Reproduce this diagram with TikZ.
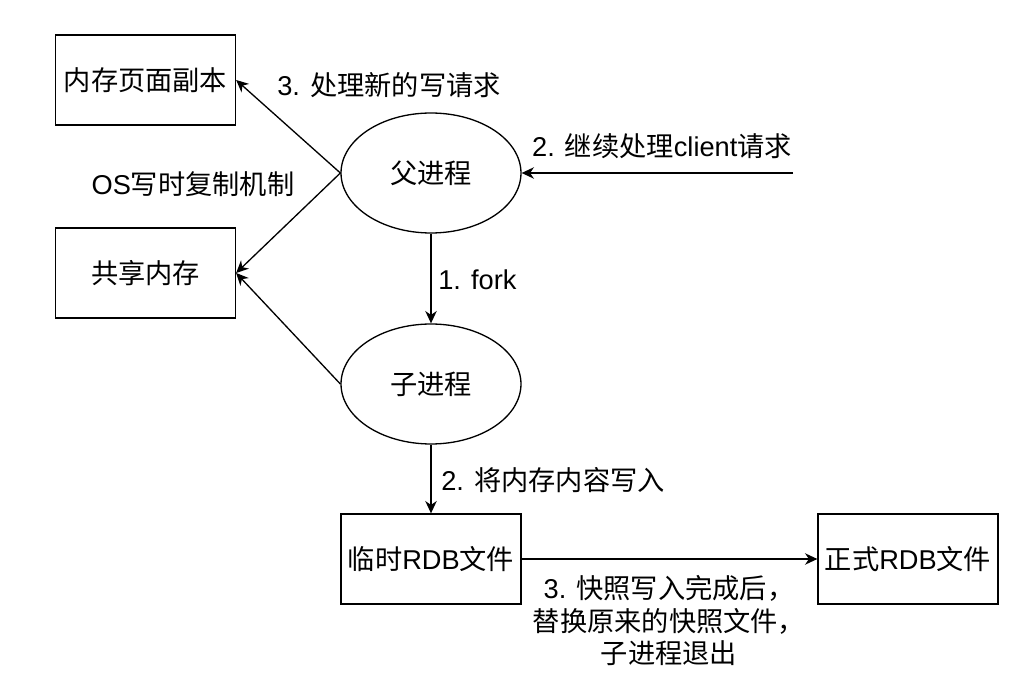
\documentclass[tikz,border=0pt]{standalone}
\usepackage{fontspec}
\setmainfont{Liberation Sans}
\newfontfamily\cjk{Noto Sans CJK SC}
\usetikzlibrary{arrows.meta,shapes.geometric}

\tikzset{
  txt/.style={font=\fontsize{15.5}{18.5}\selectfont},
  box/.style={txt,draw,line width=.75pt,minimum width=3.6cm,minimum height=1.8cm,inner sep=0pt},
  proc/.style={txt,draw,ellipse,line width=.75pt,minimum width=3.6cm,minimum height=2.4cm,inner sep=0pt},
  link/.style={line width=.75pt,-{Stealth[length=7pt,width=6.5pt,inset=2.2pt]}},
  lbl/.style={txt,inner sep=0pt}
}

\begin{document}
\begin{tikzpicture}[x=0.02cm,y=-0.02cm]
\useasboundingbox (0,0) rectangle (1018,692);

% boxes and processes
\node[box]  (copy)   at (145.5,80)  {\cjk 内存页面副本};
\node[box]  (shared) at (145.5,273) {\cjk 共享内存};
\node[proc] (parent) at (431,173)   {\cjk 父进程};
\node[proc] (child)  at (431,384)   {\cjk 子进程};
\node[box]  (tmp)    at (431,559)   {{\cjk 临时}RDB{\cjk 文件}};
\node[box]  (final)  at (908,559)   {{\cjk 正式}RDB{\cjk 文件}};
\coordinate (client) at (793,173);

% connectors
\draw[link] (parent.west) -- (copy.east);
\draw[link] (parent.west) -- (shared.east);
\draw[link] (child.west) -- (shared.east);
\draw[link] (client) -- (parent.east);
\draw[link] (parent) -- (child);
\draw[link] (child) -- (tmp);
\draw[link] (tmp) -- (final);

% labels
\node[lbl] (lcopy)   at (389,85)  {3. {\cjk 处理新的写请求}};
\node[lbl] (lcow)    at (193,184) {OS{\cjk 写时复制机制}};
\node[lbl,anchor=west] (lfork) at (438,280) {1. fork};
\node[lbl] (lclient) at (662,146) {2. {\cjk 继续处理}client{\cjk 请求}};
\node[lbl] (lwrite)  at (553,480) {2. {\cjk 将内存内容写入}};
\node[lbl,align=center] (ldone) at (669,621)
  {3. {\cjk 快照写入完成后，}\\{\cjk 替换原来的快照文件，}\\{\cjk 子进程退出}};

\end{tikzpicture}
\end{document}
